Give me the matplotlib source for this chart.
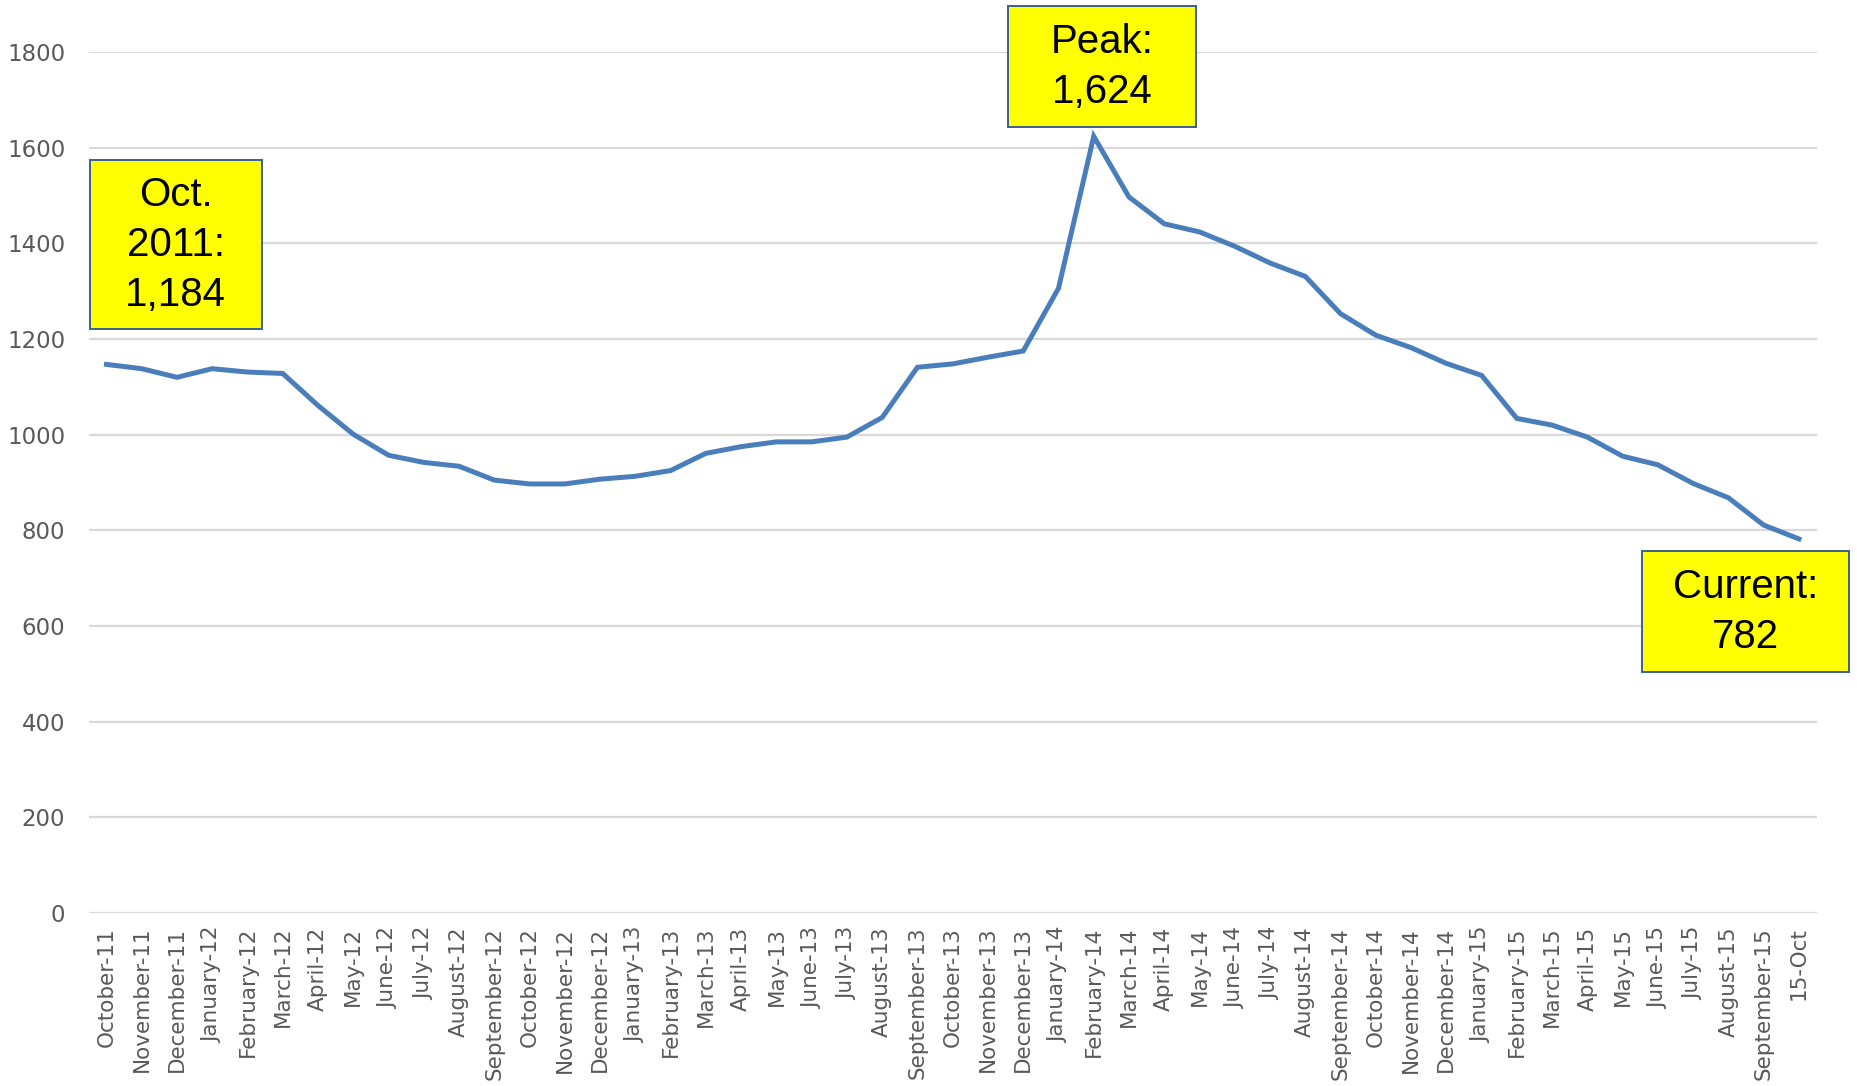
import matplotlib
matplotlib.use('Agg')
import matplotlib.pyplot as plt
from matplotlib.patches import Rectangle

# 月份标签与数值
months = ['October-11', 'November-11', 'December-11', 'January-12', 'February-12', 'March-12',
          'April-12', 'May-12', 'June-12', 'July-12', 'August-12', 'September-12',
          'October-12', 'November-12', 'December-12', 'January-13', 'February-13', 'March-13',
          'April-13', 'May-13', 'June-13', 'July-13', 'August-13', 'September-13',
          'October-13', 'November-13', 'December-13', 'January-14', 'February-14', 'March-14',
          'April-14', 'May-14', 'June-14', 'July-14', 'August-14', 'September-14',
          'October-14', 'November-14', 'December-14', 'January-15', 'February-15', 'March-15',
          'April-15', 'May-15', 'June-15', 'July-15', 'August-15', 'September-15', '15-Oct']
values = [1147, 1138, 1120, 1138, 1131, 1128, 1061, 1001, 957, 942, 934, 905,
          897, 897, 907, 913, 925, 961, 975, 985, 985, 995, 1036, 1141,
          1148, 1162, 1175, 1306, 1624, 1497, 1441, 1424, 1394, 1359, 1331, 1253,
          1208, 1182, 1149, 1124, 1034, 1020, 995, 955, 937, 898, 868, 811, 782]
yticks = [0, 200, 400, 600, 800, 1000, 1200, 1400, 1600, 1800]

callouts = ['Oct.\n2011:\n1,184', 'Peak:\n1,624', 'Current:\n782']

LINE_C = '#4a7ebb'
GRID_C = '#d9d9d9'
TICK_C = '#595959'


def main():
    fig = plt.figure(figsize=(18.58, 10.86), dpi=100)
    ax = fig.add_axes([0.0478, 0.1594, 0.9299, 0.7926])

    x = list(range(len(values)))
    ax.plot(x, values, color=LINE_C, linewidth=3.6, solid_joinstyle='miter', zorder=3)

    ax.set_xlim(-0.5, len(values) - 0.5)
    ax.set_ylim(0, 1800)
    ax.set_yticks(yticks)
    ax.set_xticks(x)
    ax.set_xticklabels(months, rotation=90, fontsize=15.5, color=TICK_C, family='DejaVu Sans')
    ax.tick_params(axis='y', length=0, pad=17, labelsize=16.5, labelcolor=TICK_C)
    ax.tick_params(axis='x', length=0, pad=10)

    ax.grid(axis='y', color=GRID_C, linewidth=1.6, zorder=0)
    for s in ax.spines.values():
        s.set_visible(False)

    # 黄色标注框（数据坐标）
    peak_i = values.index(max(values))
    last_i = len(values) - 1
    boxes = [
        (callouts[0], -0.47, 1220, 4.87, 354),
        (callouts[1], peak_i - 2.42, 1643, 5.32, 253),
        (callouts[2], last_i - 4.45, 503, 5.88, 253),
    ]
    for txt, bx, by, bw, bh in boxes:
        ax.add_patch(Rectangle((bx, by), bw, bh, facecolor='#ffff00', edgecolor='#3b5f8f',
                               linewidth=1.4, clip_on=False, zorder=5))
        ax.text(bx + bw / 2, by + bh / 2, txt, ha='center', va='center', fontsize=29,
                family='Liberation Sans', linespacing=1.4, color='black', zorder=6,
                clip_on=False)

    fig.savefig('out.png', dpi=100)
    plt.close(fig)


if __name__ == '__main__':
    main()
